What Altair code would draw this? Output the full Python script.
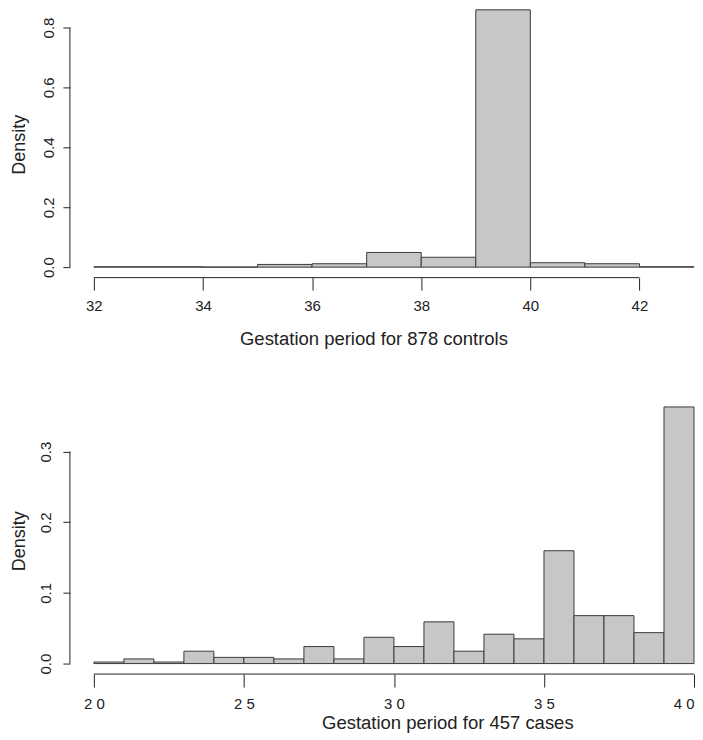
import altair as alt
import pandas as pd

FONT = "Liberation Sans"

# ---- controls (top panel) ----
ctrl_edges = [32, 33, 34, 35, 36, 37, 38, 39, 40, 41, 42, 43]
ctrl_density = [0.0012, 0.0012, 0.0002, 0.0091, 0.0114, 0.049, 0.033, 0.859, 0.0148, 0.0114, 0.0012]
ctrl_xticks = [32, 34, 36, 38, 40, 42]
ctrl_yticks = [0.0, 0.2, 0.4, 0.6, 0.8]

# ---- cases (bottom panel) ----
case_edges = list(range(20, 41))
case_counts = [1, 3, 1, 8, 4, 4, 3, 11, 3, 17, 11, 27, 8, 19, 16, 73, 31, 31, 20, 166]
case_n = 457
case_xticks = [20, 25, 30, 35, 40]
case_yticks = [0.0, 0.1, 0.2, 0.3]

FILL = "#c6c7c9"
EDGE = "#3a3a3a"
INK = "#222222"


def panel(edges, dens, xticks, yticks, w, h, ydom, title,
          xtitle_x, xtitle_y, ytitle_x, ytitle_y, ylabpad, xticksize,
          xlabpad, xlabel_expr=None, last_right=False):
    df = pd.DataFrame({"lo": edges[:-1], "hi": edges[1:], "density": dens})
    xscale = alt.Scale(domain=[edges[0], edges[-1]], nice=False, zero=False)
    yscale = alt.Scale(domain=ydom, nice=False, zero=True)
    xaxis_kw = dict(values=xticks, domain=False, offset=10.5, tickSize=xticksize,
                    tickColor=INK, labelPadding=xlabpad, labelFontSize=15,
                    labelFont=FONT, labelColor=INK, labelFlush=False, grid=False,
                    title=title, titleFont=FONT, titleFontSize=18.5,
                    titleFontWeight="normal", titleColor=INK,
                    titleX=xtitle_x, titleY=xtitle_y, titleBaseline="alphabetic",
                    titleAlign="center", format="d")
    if xlabel_expr:
        xaxis_kw["labelExpr"] = xlabel_expr
    if last_right:
        xaxis_kw["labelAlign"] = {
            "condition": {"test": f"datum.value === {xticks[-1]}", "value": "right"},
            "value": "center",
        }
    bars = alt.Chart(df).mark_rect(fill=FILL, stroke=EDGE, strokeWidth=1).encode(
        x=alt.X("lo:Q", scale=xscale, axis=alt.Axis(**xaxis_kw)),
        x2="hi:Q",
        y=alt.Y("density:Q", scale=yscale, axis=alt.Axis(
            values=yticks, domain=False, offset=24, tickSize=7, tickColor=INK,
            labelAngle=270, labelAlign="center", labelBaseline="bottom",
            labelPadding=ylabpad, labelFontSize=15, labelFont=FONT,
            labelColor=INK, labelFlush=False, grid=False, format=".1f",
            title="Density", titleFont=FONT, titleFontSize=18,
            titleFontWeight="normal", titleColor=INK, titleAngle=270,
            titleX=ytitle_x, titleY=ytitle_y, titleBaseline="alphabetic",
            titleAlign="center")),
        y2=alt.datum(0),
    )
    xr = pd.DataFrame({"a": [xticks[0]], "b": [xticks[-1]]})
    xrule = alt.Chart(xr).mark_rule(color=INK, strokeWidth=1).encode(
        x=alt.X("a:Q", scale=xscale),
        x2="b:Q",
        y=alt.value(h + 10.5),
    )
    yr = pd.DataFrame({"a": [yticks[0]], "b": [yticks[-1]]})
    yrule = alt.Chart(yr).mark_rule(color=INK, strokeWidth=1).encode(
        y=alt.Y("a:Q", scale=yscale),
        y2="b:Q",
        x=alt.value(-24),
    )
    return alt.layer(bars, xrule, yrule).properties(width=w, height=h)


top = panel(ctrl_edges, ctrl_density, ctrl_xticks, ctrl_yticks, 601, 258,
            [0, 0.86], "Gestation period for 878 controls",
            280, 66.5, -45, 135, 6, 12.5, 8)

case_density = [c / case_n for c in case_counts]
bottom = panel(case_edges, case_density, case_xticks, case_yticks, 601, 257,
               [0, case_counts[-1] / case_n], "Gestation period for 457 cases",
               354, 55, -45, 134, 9, 13, 9.5,
               xlabel_expr="slice(datum.label,0,1) + ' ' + slice(datum.label,1)",
               last_right=True)

chart = alt.vconcat(top, bottom, spacing=58).properties(
    padding={"left": 3, "top": 0, "right": 0, "bottom": 0},
    background="white",
).configure_view(stroke=None)

chart.save("out.html", embed_options={"renderer": "svg", "actions": False})
